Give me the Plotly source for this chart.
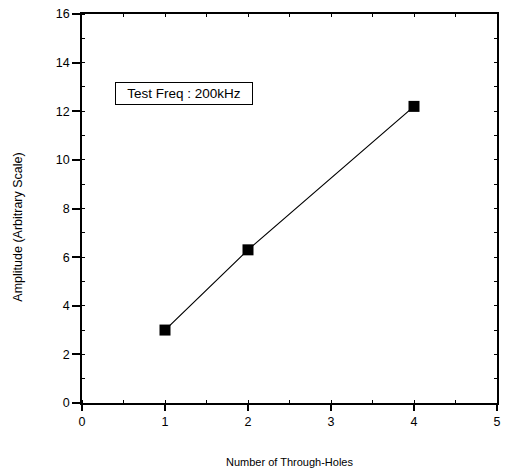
import plotly.graph_objects as go

holes = [1, 2, 4]
amplitude = [3.0, 6.3, 12.2]
x_title = "Number of Through-Holes"
y_title = "Amplitude (Arbitrary Scale)"
note_text = "Test Freq : 200kHz"

FONT = "Liberation Sans, Arial, sans-serif"

fig = go.Figure()
fig.add_trace(go.Scatter(
    x=holes, y=amplitude, mode="lines+markers",
    line=dict(color="black", width=1.2),
    marker=dict(symbol="square", size=11, color="black"),
    showlegend=False,
))
# invisible trace for top/right mirrored axes
fig.add_trace(go.Scatter(x=holes, y=amplitude, xaxis="x2", yaxis="y2",
                         mode="markers", marker=dict(opacity=0), showlegend=False,
                         hoverinfo="skip"))

axis_common = dict(showgrid=False, zeroline=False, showline=True,
                   linecolor="black", linewidth=1.5,
                   tickfont=dict(family=FONT, size=12.5, color="black"))

fig.update_layout(
    width=505, height=474,
    margin=dict(l=82, r=4, t=14, b=71),
    plot_bgcolor="white", paper_bgcolor="white",
    font=dict(family=FONT, color="black"),
    xaxis=dict(range=[0, 5], dtick=1, tick0=0, ticks="outside", ticklen=6,
               tickwidth=1.5, tickcolor="black",
               minor=dict(dtick=0.5, ticks="inside", ticklen=3, tickcolor="black", tickwidth=1),
               **axis_common),
    yaxis=dict(range=[0, 16], dtick=2, tick0=0, ticks="outside", ticklen=8,
               tickwidth=1.5, tickcolor="black",
               minor=dict(dtick=1, ticks="inside", ticklen=3, tickcolor="black", tickwidth=1),
               **axis_common),
    xaxis2=dict(overlaying="x", side="top", matches="x", range=[0, 5], dtick=0.5,
                ticks="inside", ticklen=3, tickcolor="black", tickwidth=1,
                showticklabels=False, showgrid=False, zeroline=False,
                showline=True, linecolor="black", linewidth=1.5),
    yaxis2=dict(overlaying="y", side="right", matches="y", range=[0, 16], dtick=1,
                ticks="inside", ticklen=3, tickcolor="black", tickwidth=1,
                showticklabels=False, showgrid=False, zeroline=False,
                showline=True, linecolor="black", linewidth=1.5),
    annotations=[
        dict(x=1.23, y=12.73, xref="x", yref="y", text=note_text, showarrow=False,
             font=dict(family=FONT, size=13.5, color="black"),
             bordercolor="black", borderwidth=1, borderpad=3, bgcolor="white",
             width=130, align="center"),
        dict(x=0.501, y=-0.152, xref="paper", yref="paper", text=x_title,
             showarrow=False, font=dict(family=FONT, size=11, color="black"),
             xanchor="center", yanchor="middle"),
        dict(x=-0.153, y=0.452, xref="paper", yref="paper", text=y_title,
             showarrow=False, textangle=-90,
             font=dict(family=FONT, size=12.5, color="black"),
             xanchor="center", yanchor="middle"),
    ],
)

fig.write_html("out.html")
